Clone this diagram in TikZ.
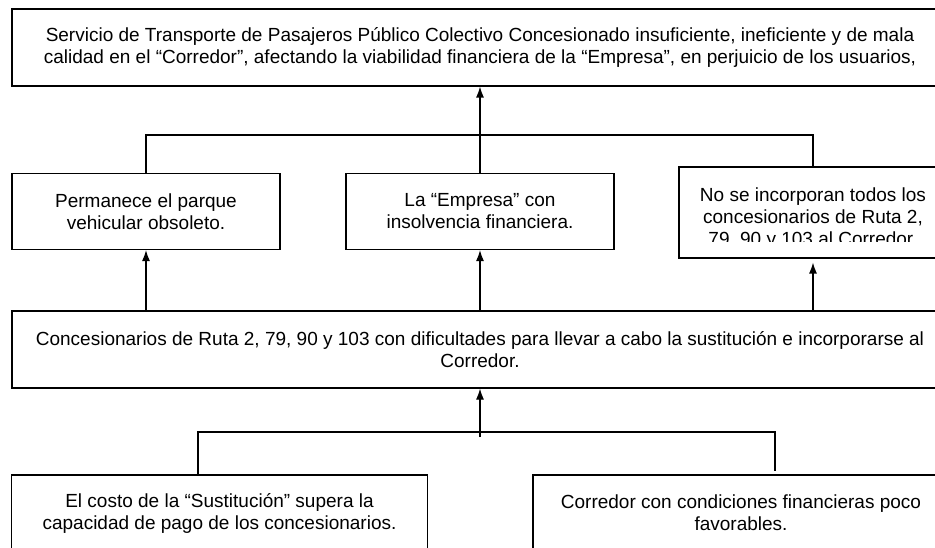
\documentclass[tikz,border=0pt]{standalone}
\usepackage{fontspec}
\setmainfont{Liberation Sans}
\usetikzlibrary{shapes,arrows,arrows.meta}
\tikzset{
	box/.style   = {draw, line width=1.2pt, rectangle, inner sep=0pt, align=center,
		font=\boxfont},
	wide/.style  = {box, minimum width=936pt, minimum height=77pt},
	small/.style = {box, minimum width=268pt, minimum height=76pt},
	half/.style  = {box, minimum width=416pt, minimum height=76pt}
}
\newcommand{\boxfont}{\fontsize{19}{22}\selectfont}

\begin{document}
\begin{tikzpicture}[auto, >={Latex[length=11pt,width=8pt]}, line width=1.2pt, x=1pt, y=-1pt]

	\useasboundingbox (0,0) rectangle (935,548);

	\draw
	% problema central y efectos
	node at (480,47.5) [wide] (top) {Servicio de Transporte de Pasajeros Público Colectivo Concesionado insuficiente, ineficiente y de mala\\calidad en el “Corredor”, afectando la viabilidad financiera de la “Empresa”, en perjuicio de los usuarios,}
	node at (146,211.5) [small] (park) {Permanece el parque\\vehicular obsoleto.}
	node at (480,211.5) [small] (insol) {La “Empresa” con\\insolvencia financiera.}
	node at (813,212.5) [small, minimum height=91pt] (noinc) {}
	% causas
	node at (480,349.5) [wide] (conc) {Concesionarios de Ruta 2, 79, 90 y 103 con dificultades para llevar a cabo la sustitución e incorporarse al\\Corredor.}
	node at (219.5,513) [half] (costo) {El costo de la “Sustitución” supera la\\capacidad de pago de los concesionarios.}
	node at (741,513) [half] (finan) {Corredor con condiciones financieras poco\\favorables.};

	% texto cortado del tercer efecto
	\begin{scope}
		\clip (670,170) rectangle (935,242);
		\node at (813,219) [font=\boxfont, align=center] (noinctxt) {No se incorporan todos los\\concesionarios de Ruta 2,\\79, 90 y 103 al Corredor.};
	\end{scope}

	\coordinate (j1) at (480,135);
	\coordinate (j2) at (480,432);

	\draw[->](insol.north) -- (top.south);
	\draw(park.north) |- (j1) -| (noinc.north);

	\draw[->](conc.north -| park.north) -- (park.south);
	\draw[->](conc.north) -- (insol.south);
	\draw[->](conc.north -| noinc.north) -- ([yshift=-4pt]noinc.south);

	\draw[->]([yshift=-5pt]j2) -- (conc.south);
	\draw([xshift=-21.5pt]costo.north) |- (j2) -| ([xshift=34pt,yshift=3pt]finan.north);

\end{tikzpicture}
\end{document}
